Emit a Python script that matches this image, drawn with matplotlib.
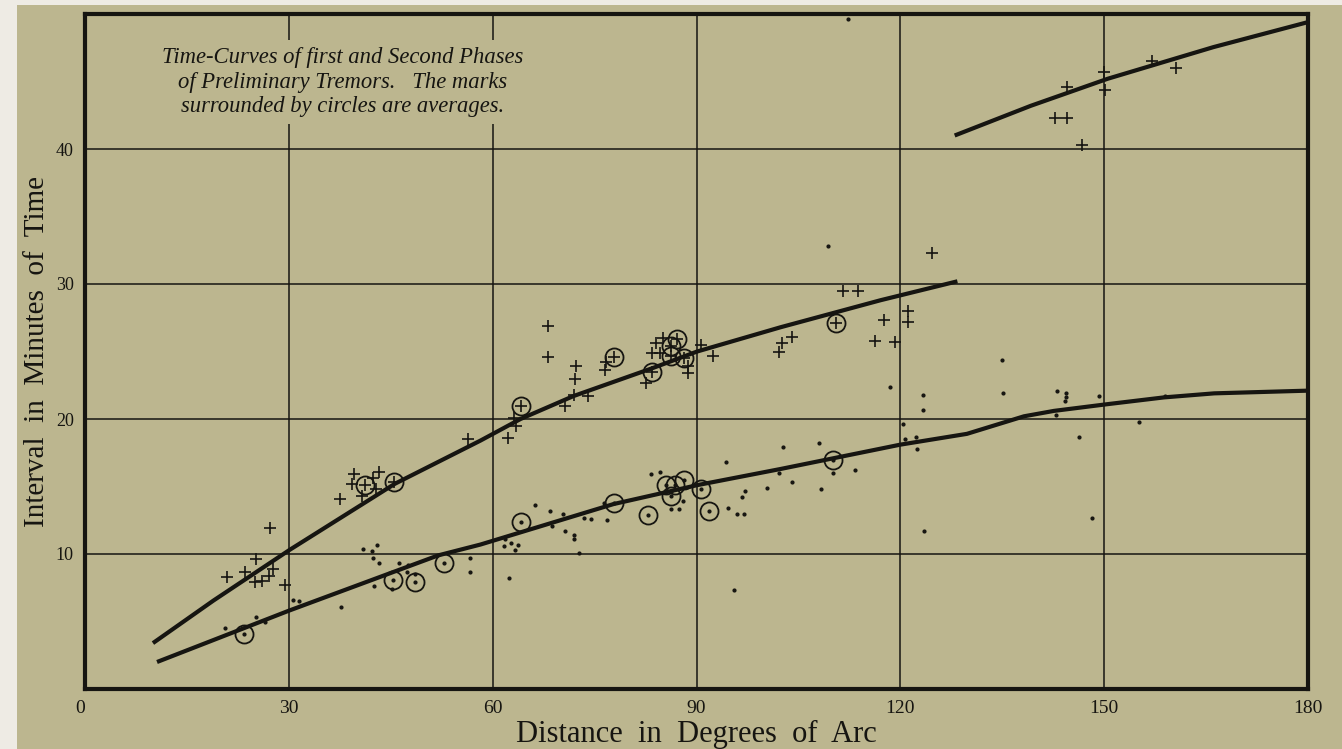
import numpy as np
import matplotlib.pyplot as plt
from matplotlib.patches import Rectangle

### DATA
# first phase (plus marks) and their averages (circled plus)
p1_deg = [20.9, 23.6, 25.2, 25.0, 26.1, 27.1, 27.7, 27.2, 29.5,
          37.6, 39.6, 39.3, 40.8, 42.4, 43.2, 42.9,
          56.4, 62.3, 63.1, 63.5,
          68.2, 68.2, 72.2, 72.1, 71.9, 70.7, 74.1, 76.7, 76.6,
          82.5, 83.4, 84.1, 85.0, 84.7, 88.7, 88.7, 90.7, 92.4,
          102.2, 102.6, 104.1, 111.6, 113.7, 116.3, 117.6, 119.2, 121.2, 121.1, 124.7]
p1_min = [8.3, 8.7, 9.6, 7.9, 8.0, 8.4, 8.9, 11.9, 7.7,
          14.1, 15.9, 15.2, 14.3, 15.6, 16.1, 14.8,
          18.5, 18.6, 20.1, 19.5,
          26.9, 24.6, 23.9, 23.0, 21.8, 21.0, 21.7, 24.2, 23.6,
          22.7, 24.9, 25.6, 26.0, 24.9, 23.9, 23.4, 25.5, 24.7,
          25.0, 25.6, 26.1, 29.5, 29.5, 25.8, 27.3, 25.7, 28.0, 27.2, 32.3]
p1_avg_deg = [41.2, 45.5, 64.2, 77.8, 83.4, 86.3, 87.2, 86.3, 88.1, 110.5]
p1_avg_min = [15.1, 15.3, 21.0, 24.6, 23.5, 25.4, 25.9, 24.7, 24.5, 27.1]

# marks beyond 140 deg (upper right curve)
p3_deg = [142.7, 144.6, 144.5, 146.8, 150.0, 150.1, 157.1, 160.6]
p3_min = [42.3, 42.3, 44.6, 40.3, 45.7, 44.4, 46.5, 46.0]

# second phase (dots) and averages (circled dot)
p2_deg = [20.6, 25.2, 26.5, 30.6, 31.5, 37.7, 40.9, 42.3, 43.0, 42.4, 43.3, 46.2, 47.6, 47.4, 48.5,
          42.6, 45.2, 56.6, 56.6,
          61.8, 61.6, 62.7, 63.7, 63.3, 62.4, 66.3, 68.5, 68.7, 70.3, 70.7, 72.0, 72.0, 72.7, 73.5,
          74.4, 76.4, 76.8,
          83.3, 84.6, 88.0, 86.2, 87.4, 94.3, 97.1, 96.7, 94.7, 96.0, 97.0, 95.5,
          100.4, 102.1, 102.8, 104.1, 108.1, 108.3, 109.4, 110.1, 113.4, 112.3,
          118.5, 120.4, 120.7, 122.3, 122.5, 123.4, 123.3, 123.5,
          134.9, 135.1, 142.9, 143.1, 144.4, 144.4, 144.2, 146.3, 148.2, 149.2, 155.2, 158.9]
p2_min = [4.5, 5.3, 5.0, 6.6, 6.5, 6.1, 10.4, 10.2, 10.7, 9.7, 9.3, 9.3, 9.2, 8.7, 8.5,
          7.6, 7.4, 9.7, 8.7,
          11.1, 10.6, 10.8, 10.7, 10.3, 8.2, 13.6, 13.2, 12.1, 13.0, 11.7, 11.4, 11.1, 10.1, 12.7,
          12.6, 13.8, 12.5,
          15.9, 16.1, 13.9, 13.3, 13.3, 16.8, 14.7, 14.2, 13.4, 13.0, 13.0, 7.3,
          14.9, 16.0, 17.9, 15.3, 18.2, 14.8, 32.8, 16.0, 16.2, 49.6,
          22.4, 19.6, 18.5, 18.7, 17.8, 21.8, 20.7, 11.7,
          24.4, 21.9, 20.3, 22.1, 21.9, 21.6, 21.3, 18.7, 12.7, 21.7, 19.8, 21.7]
p2_avg_deg = [23.4, 45.4, 48.5, 52.9, 64.2, 77.8, 82.9, 85.5, 86.9, 86.2, 88.1, 90.6, 91.9, 110.1]
p2_avg_min = [4.1, 8.1, 7.9, 9.3, 12.4, 13.8, 12.9, 15.1, 15.1, 14.3, 15.5, 14.8, 13.2, 17.0]

# drawn time-curves
c1_deg = [10.0, 18.9, 30.1, 45.6, 58.2, 64.1, 71.9, 83.7, 90.1, 102.4, 117.1, 128.4]
c1_min = [3.4, 6.55, 10.3, 15.2, 18.4, 20.0, 21.7, 23.8, 25.0, 26.8, 28.8, 30.2]
c2_deg = [10.6, 30.0, 52.0, 58.2, 77.8, 90.1, 102.4, 120.0, 129.8, 138.2, 142.6, 150.5, 158.8, 166.2, 180.0]
c2_min = [2.0, 5.8, 9.9, 10.7, 13.7, 15.1, 16.3, 18.1, 18.9, 20.2, 20.6, 21.1, 21.6, 21.9, 22.1]
c3_deg = [128.0, 139.2, 150.5, 166.1, 180.0]
c3_min = [41.0, 43.2, 45.2, 47.55, 49.4]

x_ticks = [0, 30, 60, 90, 120, 150, 180]
y_ticks = [10, 20, 30, 40]

### PLOT
paper = '#bcb68f'
ink = '#161511'
serif = 'Liberation Serif'

fig = plt.figure(figsize=(13.42, 7.49), dpi=100)
fig.patch.set_facecolor('#eeebe4')
fig.patches.append(Rectangle((17 / 1342, 0), 1, (749 - 5) / 749, transform=fig.transFigure,
                             facecolor=paper, edgecolor='none', zorder=-10))

ax = fig.add_axes([85 / 1342, 60 / 749, (1308 - 85) / 1342, (689 - 14) / 749])
ax.set_facecolor(paper)
ax.set_xlim(0, 180)
ax.set_ylim(0, 50)

ax.set_xticks(x_ticks)
ax.set_xticklabels([str(t) for t in x_ticks], family=serif, fontsize=14, color=ink)
ax.get_xticklabels()[0].set_ha('right')
ax.set_yticks(y_ticks)
ax.set_yticklabels([str(t) for t in y_ticks], family=serif, fontsize=13, color=ink)
ax.tick_params(length=0, pad=8)
ax.grid(True, color=ink, linewidth=1.1)
ax.set_axisbelow(True)
for s in ax.spines.values():
    s.set_linewidth(3.0)
    s.set_color(ink)

# curves
for cx, cy in [(c1_deg, c1_min), (c2_deg, c2_min), (c3_deg, c3_min)]:
    ax.plot(cx, cy, color=ink, linewidth=3.0, solid_capstyle='butt', zorder=3)

# marks
ax.plot(p1_deg, p1_min, '+', color=ink, markersize=8, markeredgewidth=1.2, zorder=4)
ax.plot(p3_deg, p3_min, '+', color=ink, markersize=8, markeredgewidth=1.2, zorder=4)
ax.plot(p1_avg_deg, p1_avg_min, '+', color=ink, markersize=8, markeredgewidth=1.2, zorder=4)
ax.plot(p1_avg_deg, p1_avg_min, 'o', color=ink, markerfacecolor='none', markersize=13,
        markeredgewidth=1.3, zorder=4)
ax.plot(p2_deg, p2_min, '.', color=ink, markersize=4, zorder=4)
ax.plot(p2_avg_deg, p2_avg_min, '.', color=ink, markersize=4, zorder=4)
ax.plot(p2_avg_deg, p2_avg_min, 'o', color=ink, markerfacecolor='none', markersize=13,
        markeredgewidth=1.3, zorder=4)

ax.text(0.211, 0.899, 'Time-Curves of first and Second Phases\n'
        'of Preliminary Tremors.   The marks\n'
        'surrounded by circles are averages.',
        transform=ax.transAxes, ha='center', va='center', family=serif, style='italic',
        fontsize=16.3, color=ink, linespacing=1.22, zorder=5,
        bbox=dict(facecolor=paper, edgecolor='none', pad=5))

ax.set_xlabel('Distance  in  Degrees  of  Arc', family=serif, fontsize=22, color=ink, labelpad=2)
ax.set_ylabel('Interval  in  Minutes  of  Time', family=serif, fontsize=21, color=ink, labelpad=4)

fig.savefig('out.png', dpi=100, facecolor=fig.get_facecolor())
